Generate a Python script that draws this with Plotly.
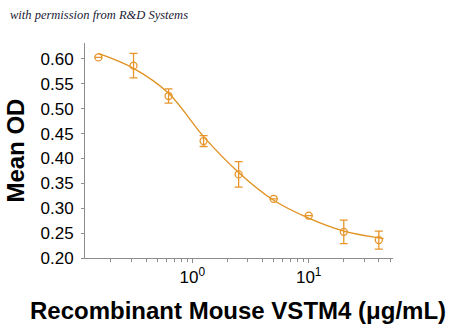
import plotly.graph_objects as go

# Data
conc = [0.156, 0.3125, 0.625, 1.25, 2.5, 5, 10, 20, 40]
mean_od = [0.603, 0.5865, 0.5255, 0.435, 0.368, 0.319, 0.285, 0.2525, 0.236]
err = [None, 0.0245, 0.0145, 0.011, 0.0255, None, None, 0.0235, 0.018]

fit_x = [0.156, 0.3125, 0.625, 1.25, 2.5, 5, 10, 20, 44]
fit_y = [0.611, 0.581, 0.531, 0.444, 0.372, 0.316, 0.280, 0.254, 0.239]

y_ticks = [0.20, 0.25, 0.30, 0.35, 0.40, 0.45, 0.50, 0.55, 0.60]
y_ticktext = ["0.20", "0.25", "0.30", "0.35", "0.40", "0.45", "0.50", "0.55", "0.60"]
x_ticks = [1, 10]
x_ticktext = ["10<sup>0</sup>", "10<sup>1</sup>"]
x_minor = [0.2, 0.3, 0.4, 0.5, 0.6, 0.7, 0.8, 0.9, 2, 3, 4, 5, 6, 7, 8, 9, 20, 30, 40, 50]

ORANGE = "#E8952A"
LINE = "#E0901E"
AXIS = "#8c8c8c"

fig = go.Figure()
fig.add_trace(go.Scatter(
    x=fit_x, y=fit_y, mode="lines", line=dict(color=LINE, width=1.3, shape="spline"),
    hoverinfo="skip", showlegend=False))
fig.add_trace(go.Scatter(
    x=conc, y=mean_od, mode="markers",
    marker=dict(symbol="circle-open", size=7, color=ORANGE, line=dict(width=1.3, color=ORANGE)),
    error_y=dict(type="data", array=err, visible=True, color=ORANGE, thickness=1.3, width=4),
    showlegend=False))

fig.update_layout(
    width=450, height=331,
    margin=dict(l=85, r=57, t=43, b=73),
    paper_bgcolor="white", plot_bgcolor="white",
    font=dict(family="Liberation Sans, Arial, sans-serif", color="black"),
    xaxis=dict(
        type="log", range=[-0.922, 1.724],
        tickmode="array", tickvals=x_ticks, ticktext=x_ticktext,
        ticks="outside", ticklen=4, tickcolor=AXIS, tickwidth=1,
        showline=True, linecolor=AXIS, linewidth=1,
        showgrid=False, zeroline=False,
        tickfont=dict(size=17, color="black"),
        minor=dict(tickmode="array", tickvals=x_minor, ticks="outside", ticklen=3,
                   tickcolor=AXIS, tickwidth=1, showgrid=False),
    ),
    yaxis=dict(
        range=[0.20, 0.632],
        tickmode="array", tickvals=y_ticks, ticktext=y_ticktext,
        ticks="outside", ticklen=3, tickcolor=AXIS, tickwidth=1,
        showline=True, linecolor=AXIS, linewidth=1,
        showgrid=False, zeroline=False,
        tickfont=dict(size=17, color="black"),
        ticklabelstandoff=4,
    ),
    annotations=[
        dict(text="<b>Mean OD</b>", xref="paper", yref="paper", x=-0.227, y=0.5,
             textangle=-90, showarrow=False, xanchor="center", yanchor="middle",
             font=dict(size=24, color="black")),
        dict(text="<b>Recombinant Mouse VSTM4 (μg/mL)</b>", xref="paper", yref="paper",
             x=0.498, y=-0.2465, showarrow=False, xanchor="center", yanchor="middle",
             font=dict(size=24, color="black")),
        dict(text="<i>with permission from R&amp;D Systems</i>", xref="paper", yref="paper",
             x=-0.25, y=1.13, showarrow=False, xanchor="left", yanchor="middle",
             font=dict(size=12.5, color="#1a1a33", family="Liberation Serif, serif")),
    ],
)

fig.write_html("out.html")
